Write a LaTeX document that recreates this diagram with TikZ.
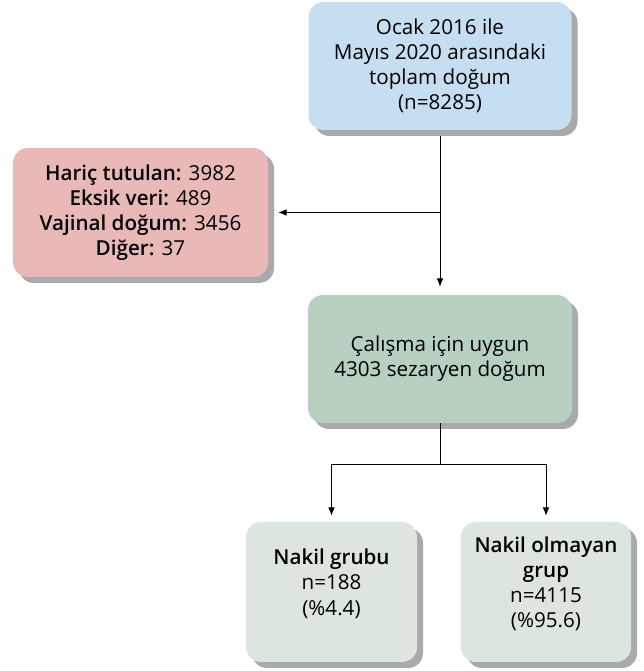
\documentclass[tikz,border=0pt]{standalone}
\usepackage{fontspec}
\setmainfont{Open Sans}[BoldFont={Open Sans Semibold}]
\usetikzlibrary{arrows.meta,shadows}
\definecolor{boxblue}{RGB}{198,222,242}
\definecolor{boxred}{RGB}{232,185,182}
\definecolor{boxgreen}{RGB}{184,208,192}
\definecolor{boxpale}{RGB}{220,230,223}
\definecolor{shadowgray}{RGB}{170,170,172}
\tikzset{
  box/.style={rectangle, rounded corners=0.45cm, inner sep=0pt, align=center,
    font=\fontsize{17.6}{21.5}\selectfont,
    general shadow={fill=shadowgray, shadow xshift=0.18cm, shadow yshift=-0.18cm}},
  link/.style={line width=0.8pt},
  arr/.style={link, -{Latex[length=0.25cm,width=0.2cm]}}
}

\begin{document}
\begin{tikzpicture}
    \useasboundingbox (0,0) rectangle (19.29,20.13);
    % boxes
    \node[box, fill=boxblue, minimum width=7.89cm, minimum height=3.84cm] (total) at (13.2,18.15)
        {Ocak 2016 ile\\Mayıs 2020 arasındaki\\toplam doğum\\(n=8285)};
    \node[box, fill=boxred, minimum width=7.65cm, minimum height=3.87cm] (excl) at (4.215,13.755)
        {\textbf{Hariç tutulan:} 3982\\\textbf{Eksik veri:} 489\\\textbf{Vajinal doğum:} 3456\\\textbf{Diğer:} 37};
    \node[box, fill=boxgreen, minimum width=7.92cm, minimum height=3.84cm] (elig) at (13.2,9.36)
        {Çalışma için uygun\\4303 sezaryen doğum};
    \node[box, fill=boxpale, minimum width=5.13cm, minimum height=4.2cm, text depth=0.6cm] (grp1) at (9.945,2.37)
        {\textbf{Nakil grubu}\\n=188\\(\%4.4)};
    \node[box, fill=boxpale, minimum width=5.1cm, minimum height=4.2cm, text depth=0.6cm] (grp2) at (16.38,2.37)
        {\textbf{Nakil olmayan}\\\textbf{grup}\\n=4115\\(\%95.6)};
    % connectors
    \coordinate (s1) at (total.south |- excl.east);
    \coordinate (s2) at (13.2,6.21);
    \draw[arr, shorten <=0.18cm, shorten >=0.24cm] (total) -- (elig);
    \draw[arr, shorten >=0.3cm] (s1) -- (excl);
    \draw[link] (elig) -- (s2);
    \draw[arr, shorten >=0.18cm] (s2) -| (grp1);
    \draw[arr, shorten >=0.18cm] (s2) -| (grp2);
\end{tikzpicture}
\end{document}
